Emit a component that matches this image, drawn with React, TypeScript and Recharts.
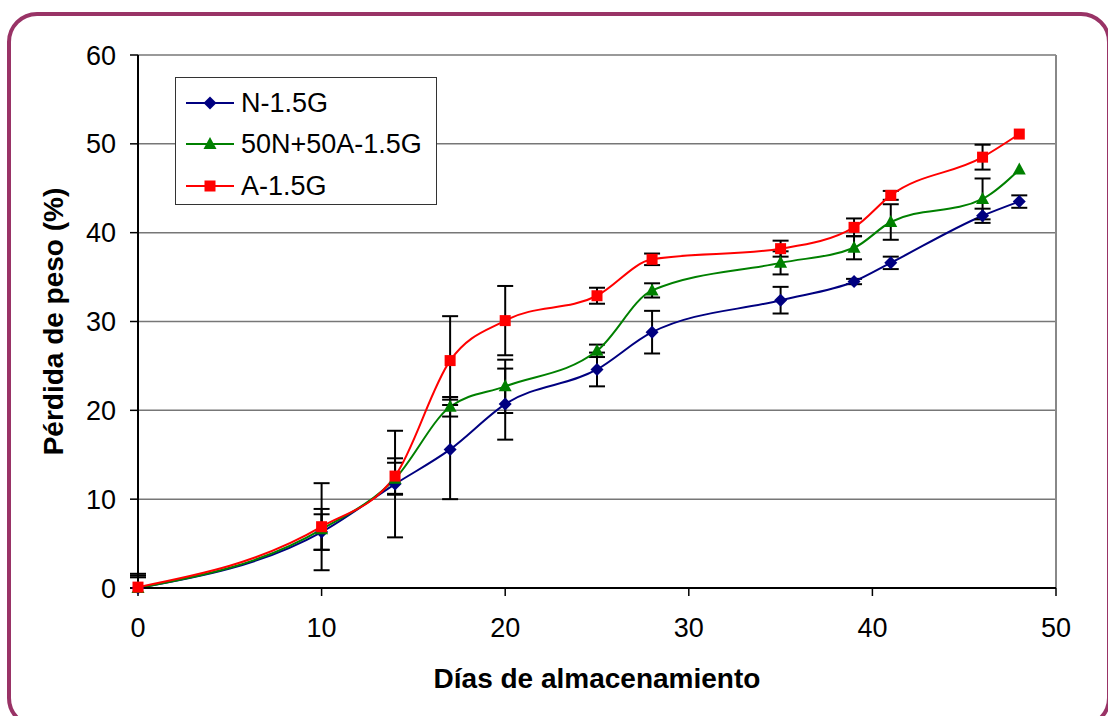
import React from 'react';
import { CartesianGrid, ErrorBar, Legend, Line, LineChart, ReferenceLine, XAxis, YAxis } from 'recharts';

const days = [0, 10, 14, 17, 20, 25, 28, 35, 39, 41, 46, 48];
const nValues = [0, 6.3, 11.7, 15.6, 20.7, 24.6, 28.8, 32.4, 34.5, 36.6, 41.9, 43.5];
const mixValues = [0, 6.6, 12.3, 20.4, 22.7, 26.7, 33.5, 36.6, 38.3, 41.2, 43.8, 47.1];
const aValues = [0.1, 6.9, 12.6, 25.6, 30.1, 32.9, 37.0, 38.2, 40.6, 44.2, 48.5, 51.1];
const nErrors = [1.2, 2.0, 6.0, 5.6, 4.0, 1.9, 2.4, 1.5, 0.3, 0.7, 0.8, 0.7];
const mixErrors = [1.6, 2.3, 1.8, 1.1, 3.0, 0.7, 0.8, 1.3, 1.3, 2.0, 2.3, 0];
const aErrors = [1.3, 4.9, 2.0, 5.0, 3.9, 0.9, 0.65, 0.9, 1.0, 0.5, 1.4, 0];
const xTicks = [0, 10, 20, 30, 40, 50];
const yTicks = [0, 10, 20, 30, 40, 50, 60];

// the plot stops at 0, so the lower half of a bar never goes under the axis
const clipErr = (v: number, e: number) => (e ? [Math.min(e, v), e] : 0);

const data = days.map((d, i) => ({
  day: d,
  n: nValues[i],
  mix: mixValues[i],
  a: aValues[i],
  nErr: clipErr(nValues[i], nErrors[i]),
  mixErr: clipErr(mixValues[i], mixErrors[i]),
  aErr: clipErr(aValues[i], aErrors[i]),
}));

const FONT = '"Liberation Sans", Arial, sans-serif';

const Diamond = ({ cx, cy, fill }: any) => {
  if (cx == null || cy == null) return null;
  return <polygon points={`${cx},${cy - 6.5} ${cx + 6.5},${cy} ${cx},${cy + 6.5} ${cx - 6.5},${cy}`} fill={fill} />;
};

const Triangle = ({ cx, cy, fill }: any) => {
  if (cx == null || cy == null) return null;
  return <polygon points={`${cx},${cy - 7} ${cx + 6.5},${cy + 5} ${cx - 6.5},${cy + 5}`} fill={fill} />;
};

const Square = ({ cx, cy, fill }: any) => {
  if (cx == null || cy == null) return null;
  return <rect x={cx - 5.5} y={cy - 5.5} width={11} height={11} fill={fill} />;
};

const series = [
  { key: 'n', err: 'nErr', name: 'N-1.5G', color: '#000080', Shape: Diamond },
  { key: 'mix', err: 'mixErr', name: '50N+50A-1.5G', color: '#008000', Shape: Triangle },
  { key: 'a', err: 'aErr', name: 'A-1.5G', color: '#FF0000', Shape: Square },
];

const LegendBox = () => (
  <div
    style={{
      border: '1px solid #333',
      background: '#fff',
      width: 262,
      height: 128,
      boxSizing: 'border-box',
      padding: '4px 0 0 10px',
      fontFamily: FONT,
    }}
  >
    {series.map((s) => (
      <div key={s.key} style={{ display: 'flex', alignItems: 'center', height: 41.5 }}>
        <svg width={48} height={20}>
          <line x1={0} y1={10} x2={48} y2={10} stroke={s.color} strokeWidth={2} />
          <s.Shape cx={24} cy={10} fill={s.color} />
        </svg>
        <span style={{ marginLeft: 7, fontSize: 27, color: '#000', lineHeight: '30px' }}>{s.name}</span>
      </div>
    ))}
  </div>
);

const XTitle = ({ viewBox }: any) => (
  <text x={viewBox.x + viewBox.width / 2} y={688} textAnchor="middle" fontFamily={FONT} fontSize={28} fontWeight="bold" fill="#000">
    Días de almacenamiento
  </text>
);

const YTitle = ({ viewBox }: any) => {
  const cy = viewBox.y + viewBox.height / 2;
  return (
    <text x={63} y={cy} transform={`rotate(-90 63 ${cy})`} textAnchor="middle" fontFamily={FONT} fontSize={28} fontWeight="bold" fill="#000">
      Pérdida de peso (%)
    </text>
  );
};

export default function App() {
  return (
    <div style={{ position: 'fixed', left: 0, top: 0, width: 1108, height: 716, background: '#fff', overflow: 'hidden' }}>
      <div
        style={{
          position: 'absolute',
          left: 7,
          top: 12,
          width: 1104,
          height: 716,
          boxSizing: 'border-box',
          border: '4px solid #993366',
          borderRadius: 30,
        }}
      />
      <div style={{ position: 'absolute', left: 0, top: 0 }}>
        <LineChart width={1108} height={716} data={data} margin={{ top: 55, right: 52, left: 8, bottom: 0 }}>
          <CartesianGrid horizontal vertical={false} stroke="#777" strokeWidth={1.5} />
          <ReferenceLine x={50} stroke="#888" strokeWidth={2} />
          <XAxis
            dataKey="day"
            type="number"
            domain={[0, 50]}
            ticks={xTicks}
            height={128}
            axisLine={{ stroke: '#000', strokeWidth: 2 }}
            tickLine={{ stroke: '#000', strokeWidth: 1.5 }}
            tickSize={8}
            tickMargin={22}
            tick={{ fill: '#000', fontSize: 27, fontFamily: FONT }}
            label={{ content: XTitle }}
          />
          <YAxis
            type="number"
            domain={[0, 60]}
            ticks={yTicks}
            width={130}
            axisLine={{ stroke: '#000', strokeWidth: 2 }}
            tickLine={{ stroke: '#000', strokeWidth: 1.5 }}
            tickSize={8}
            tickMargin={14}
            tick={{ fill: '#000', fontSize: 27, fontFamily: FONT }}
            label={{ content: YTitle }}
          />
          <Legend layout="horizontal" align="center" verticalAlign="middle" content={LegendBox} wrapperStyle={{ left: 175, top: 77, width: 262 }} />
          {series.map((s) => (
            <Line
              key={s.key}
              dataKey={s.key}
              name={s.name}
              type="monotone"
              stroke={s.color}
              strokeWidth={2}
              dot={<s.Shape fill={s.color} />}
              activeDot={false}
              isAnimationActive={false}
            >
              <ErrorBar dataKey={s.err} direction="y" width={8} stroke="#000" strokeWidth={2} />
            </Line>
          ))}
        </LineChart>
      </div>
    </div>
  );
}
